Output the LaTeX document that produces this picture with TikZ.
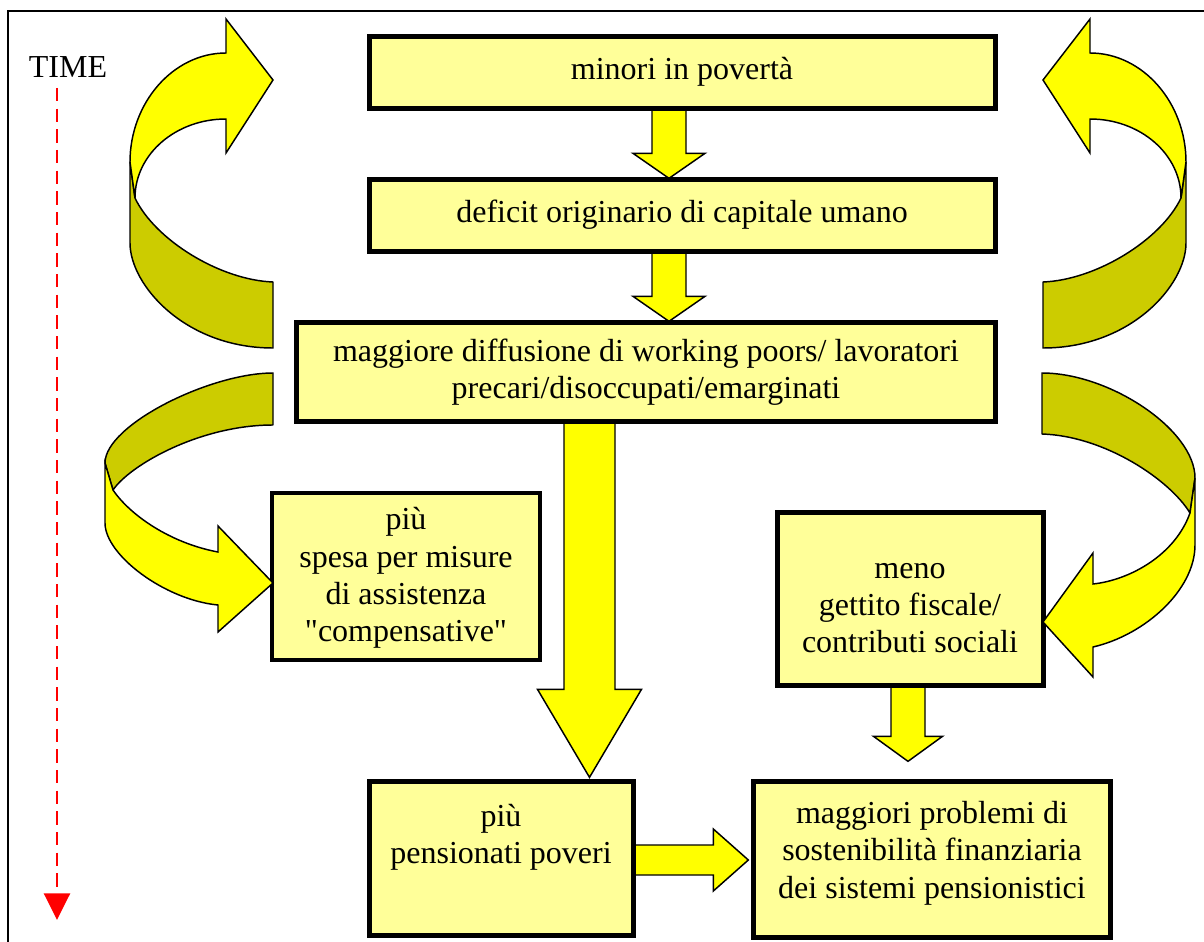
\documentclass[tikz,border=0pt]{standalone}
\usepackage{fontspec}
\setmainfont{Liberation Serif}[Ligatures=TeXOff]
\usetikzlibrary{calc,fit,arrows.meta}
\definecolor{boxfill}{RGB}{255,255,153}
\definecolor{arrowy}{RGB}{255,255,0}
\definecolor{arrowdark}{RGB}{204,204,0}
\definecolor{timered}{RGB}{255,0,0}
\tikzset{
  box/.style={draw=black, line width=2.5pt, fill=boxfill, inner sep=0pt},
  txt/.style={align=center, font=\fontsize{24}{28}\selectfont, inner sep=0pt},
  blockarrow/.style={draw=black, line width=1.1pt, fill=arrowy, line join=miter},
  darkband/.style={draw=black, line width=1.1pt, fill=arrowdark, line join=round},
  lightband/.style={draw=black, line width=1.1pt, fill=arrowy, line join=miter},
  timeline/.style={draw=timered, line width=1.9pt, dash pattern=on 10pt off 5.5pt,
    -{Triangle[width=19.5pt,length=20pt,fill=timered]}},
  frameline/.style={draw=black, line width=1.2pt},
}
% vertical block arrow: #1 start (top centre), #2 tip, #3 shaft half width, #4 head half width, #5 head length
\newcommand\vArrow[5]{\draw[blockarrow] ($(#1)+(-#3,0)$) -- ($(#2)+(-#3,-#5)$) -- ($(#2)+(-#4,-#5)$) -- (#2) -- ($(#2)+(#4,-#5)$) -- ($(#2)+(#3,-#5)$) -- ($(#1)+(#3,0)$) -- cycle;}
% horizontal block arrow (to the right)
\newcommand\hArrow[5]{\draw[blockarrow] ($(#1)+(0,-#3)$) -- ($(#2)+(-#5,-#3)$) -- ($(#2)+(-#5,-#4)$) -- (#2) -- ($(#2)+(-#5,#4)$) -- ($(#2)+(-#5,#3)$) -- ($(#1)+(0,#3)$) -- cycle;}
\begin{document}
\begin{tikzpicture}[x=0.75pt,y=-0.75pt]
\useasboundingbox (0,0) rectangle (1204,942);
% frame
\draw[frameline] (8,942) -- (8,11) -- (1204,11);

% boxes
\node[box, fit={(370,37) (995,108)}] (b1) {};
\node[box, fit={(370,180) (995,251)}] (b2) {};
\node[box, fit={(297,323) (995,421)}] (b3) {};
\node[box, fit={(272,493) (540,660)}] (b4) {};
\node[box, fit={(778,513) (1043,685)}] (b5) {};
\node[box, fit={(370,782) (633,935)}] (b6) {};
\node[box, fit={(754,782) (1110,937)}] (b7) {};

% texts
\node[txt] (t1) at (682,72) {minori in povertà};
\node[txt] (t2) at (682,215) {deficit originario di capitale umano};
\node[txt] (t3) at (646,372) {maggiore diffusione di working poors/ lavoratori\\precari/disoccupati/emarginati};
\node[txt] (t4) at (406,578) {più\\spesa per misure\\di assistenza\\"compensative"};
\node[txt] (t5) at (910,608) {meno\\gettito fiscale/\\contributi sociali};
\node[txt] (t6) at (501,837) {più\\pensionati poveri};
\node[txt] (t7) at (932,853) {maggiori problemi di\\sostenibilità finanziaria\\dei sistemi pensionistici};

% straight block arrows
\coordinate (a1) at ($(b1.south)+(-13.5,0)$);
\coordinate (a1t) at (a1 |- b2.north);
\vArrow{a1}{a1t}{17}{36}{25}
\coordinate (a2) at ($(b2.south)+(-13.5,0)$);
\coordinate (a2t) at (a2 |- b3.north);
\vArrow{a2}{a2t}{17}{36}{25}
\coordinate (a3) at ($(b3.south)+(-56.5,0)$);
\coordinate (a3t) at ($(a3 |- b6.north)+(0,-3)$);
\vArrow{a3}{a3t}{25.5}{52}{88}
\coordinate (a4) at ($(b5.south)+(-2.5,0)$);
\coordinate (a4t) at ($(a4 |- b7.north)+(0,-19)$);
\vArrow{a4}{a4t}{17}{34.5}{25}
\coordinate (a5) at ($(b6.east)+(0,1.5)$);
\coordinate (a5t) at ($(a5 -| b7.west)+(-4,0)$);
\hArrow{a5}{a5t}{15}{31}{35}

% redraw box borders over arrow ends
\foreach \b in {b1,b2,b3,b5,b6,b7} {\draw[line width=2.5pt] (\b.south west) rectangle (\b.north east);}

% curved arrow: left upper
\draw[darkband] (273,282) .. controls (220,280) and (155,240) .. (135,198) -- (130,162) -- (130,243)
  .. controls (130,285) and (185,348) .. (273,348) -- cycle;
\draw[lightband] (135,198) -- (130,162) .. controls (130,103) and (173,53) .. (226,53) -- (226,19) -- (273,80)
  -- (226,153) -- (226,119) .. controls (176,119) and (135,154) .. (135,198) -- cycle;

% curved arrow: right upper (mirror)
\begin{scope}[shift={(1316,0)}, xscale=-1]
\draw[darkband] (273,282) .. controls (220,280) and (155,240) .. (135,198) -- (130,162) -- (130,243)
  .. controls (130,285) and (185,348) .. (273,348) -- cycle;
\draw[lightband] (135,198) -- (130,162) .. controls (130,103) and (173,53) .. (226,53) -- (226,19) -- (273,80)
  -- (226,153) -- (226,119) .. controls (176,119) and (135,154) .. (135,198) -- cycle;
\end{scope}

% curved arrow: left lower
\draw[darkband] (273,373) .. controls (210,373) and (105,425) .. (105,463) -- (113,490)
  .. controls (130,465) and (200,425) .. (273,425) -- cycle;
\draw[lightband] (113,490) -- (105,463) -- (105,523) .. controls (105,555) and (165,600) .. (218,605)
  -- (218,632) -- (273,583) -- (218,526) -- (218,552) .. controls (170,543) and (130,515) .. (113,490) -- cycle;

% curved arrow: right lower
\draw[darkband] (1042,373) .. controls (1110,373) and (1195,430) .. (1195,478) -- (1190,513)
  .. controls (1170,480) and (1105,436) .. (1042,434) -- cycle;
\draw[lightband] (1190,513) -- (1195,478) -- (1195,545) .. controls (1195,590) and (1145,635) .. (1093,647)
  -- (1093,677) -- (1043,622) -- (1093,553) -- (1093,584) .. controls (1130,580) and (1175,555) .. (1190,513) -- cycle;

% time axis
\node[txt] (time) at (68,67) {TIME};
\coordinate (ts) at (57,88);
\coordinate (te) at (57,920);
\draw[timeline] (ts) -- (te);
\end{tikzpicture}
\end{document}
